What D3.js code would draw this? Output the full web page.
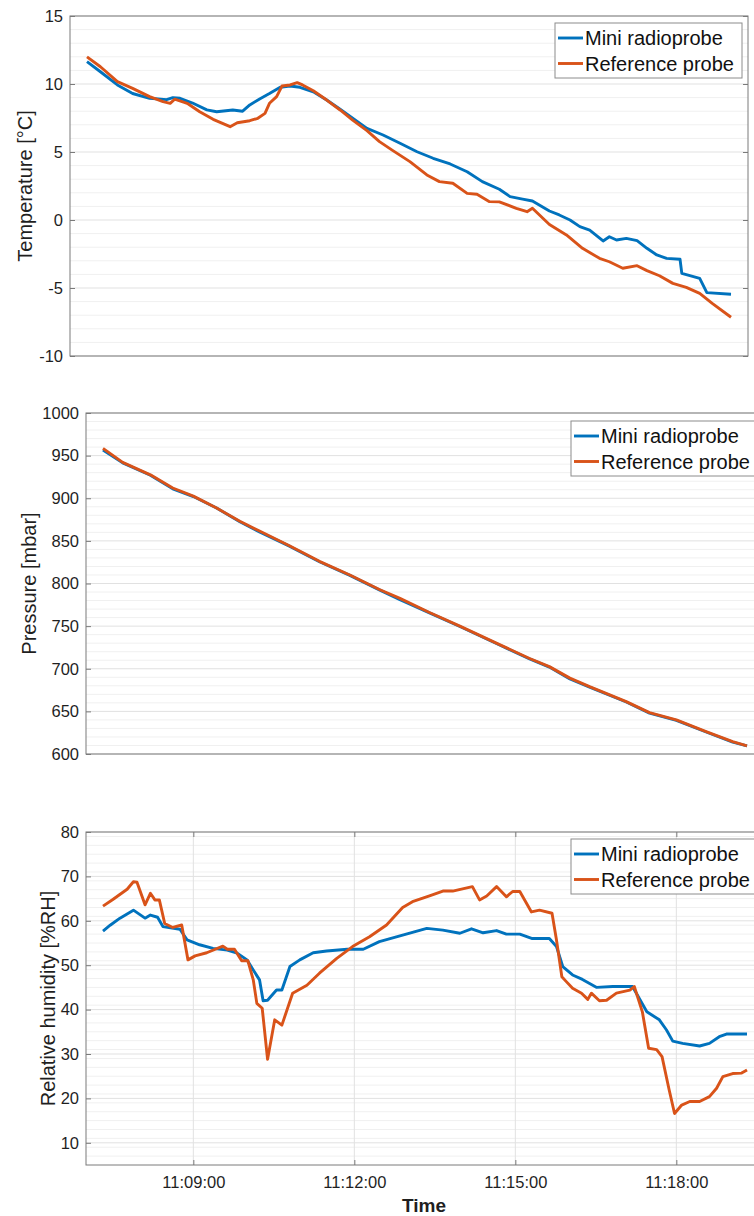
<!DOCTYPE html>
<html>
<head>
<meta charset="utf-8">
<script src="https://cdn.jsdelivr.net/npm/d3@7"></script>
<style>
  body { margin: 0; background: #fff; }
  svg { font-family: "Liberation Sans", Arial, sans-serif; display: block; }
  .tick text { fill: #1f1f1f; }
</style>
</head>
<body>
<div id="chart"></div>
<script>
// Temperature panel
const tempTicks = [-10, -5, 0, 5, 10, 15];
const tempMiniTime = ["11:07:19","11:07:34","11:07:53","11:08:10","11:08:29","11:08:48","11:08:55","11:09:03","11:09:17","11:09:33","11:09:44","11:10:02","11:10:13","11:10:21","11:10:32","11:10:43","11:10:55","11:11:06","11:11:17","11:11:32","11:11:47","11:12:02","11:12:16","11:12:32","11:12:50","11:13:09","11:13:28","11:13:46","11:14:05","11:14:24","11:14:41","11:15:00","11:15:12","11:15:26","11:15:37","11:15:56","11:16:07","11:16:19","11:16:30","11:16:41","11:16:56","11:17:03","11:17:11","11:17:22","11:17:34","11:17:45","11:17:56","11:18:07","11:18:22","11:18:24","11:18:44","11:18:52","11:19:19"];
const tempMini = [11.64,10.9,9.93,9.3,8.95,8.85,9.0,8.95,8.6,8.1,7.96,8.09,8.0,8.46,8.9,9.3,9.76,9.85,9.76,9.43,8.82,8.14,7.48,6.74,6.25,5.64,5.02,4.54,4.12,3.55,2.82,2.26,1.72,1.54,1.4,0.66,0.37,0.0,-0.49,-0.74,-1.54,-1.23,-1.47,-1.35,-1.52,-2.08,-2.57,-2.82,-2.89,-3.92,-4.29,-5.34,-5.46];
const tempRefTime = ["11:07:19","11:07:34","11:07:53","11:08:10","11:08:29","11:08:44","11:08:52","11:08:57","11:09:11","11:09:25","11:09:40","11:09:59","11:10:07","11:10:21","11:10:30","11:10:38","11:10:43","11:10:51","11:10:57","11:11:06","11:11:14","11:11:20","11:11:32","11:11:47","11:12:02","11:12:16","11:12:32","11:12:46","11:13:01","11:13:20","11:13:39","11:13:53","11:14:08","11:14:24","11:14:35","11:14:49","11:15:00","11:15:19","11:15:31","11:15:37","11:15:56","11:16:15","11:16:33","11:16:52","11:17:03","11:17:18","11:17:34","11:17:45","11:17:59","11:18:14","11:18:29","11:18:44","11:18:58","11:19:19"];
const tempRef = [12.0,11.27,10.17,9.68,9.07,8.7,8.58,8.88,8.58,7.96,7.4,6.86,7.15,7.3,7.48,7.84,8.58,9.07,9.85,9.93,10.1,9.93,9.5,8.82,8.09,7.35,6.57,5.76,5.1,4.29,3.31,2.82,2.7,1.96,1.89,1.35,1.33,0.86,0.61,0.86,-0.33,-1.1,-2.08,-2.82,-3.07,-3.55,-3.36,-3.72,-4.1,-4.66,-4.95,-5.39,-6.13,-7.15];

// Pressure panel
const presTicks = [600, 650, 700, 750, 800, 850, 900, 950, 1000];
const presTime = ["11:07:19","11:07:41","11:08:12","11:08:37","11:09:00","11:09:26","11:09:52","11:10:14","11:10:48","11:11:21","11:11:55","11:12:28","11:12:51","11:13:24","11:13:58","11:14:43","11:15:16","11:15:38","11:16:01","11:16:23","11:17:04","11:17:30","11:18:00","11:18:34","11:19:03","11:19:19"];
const presMini = [956.5,941.5,927,911,902,888.5,872.5,860.5,843.5,825.5,809.5,792.5,781,765.5,749.5,727.5,711.5,702,688,678.5,661,648,639.5,625.5,614,609.5];
const presRef = [958.5,942,927.5,912,902.5,888.5,873,861.5,844,826,810,793,782.5,766,750,728,712,702.5,689,679,661.5,648.5,640,626,614.5,609.5];

// Relative humidity panel
const rhTicks = [10, 20, 30, 40, 50, 60, 70, 80];
const rhMiniTime = ["11:07:19","11:07:27","11:07:38","11:07:53","11:08:06","11:08:12","11:08:20","11:08:26","11:08:45","11:08:53","11:09:07","11:09:22","11:09:38","11:09:49","11:10:00","11:10:07","11:10:14","11:10:18","11:10:23","11:10:33","11:10:39","11:10:48","11:10:59","11:11:14","11:11:29","11:11:52","11:12:10","11:12:28","11:12:51","11:13:21","11:13:39","11:13:58","11:14:11","11:14:24","11:14:39","11:14:50","11:15:05","11:15:19","11:15:38","11:15:46","11:15:53","11:16:04","11:16:15","11:16:31","11:16:49","11:17:11","11:17:27","11:17:41","11:17:49","11:17:56","11:18:07","11:18:26","11:18:37","11:18:48","11:18:56","11:19:19"];
const rhMini = [57.7,59.0,60.6,62.4,60.6,61.3,60.8,58.7,58.1,55.7,54.6,53.8,53.4,52.7,51.2,48.9,46.7,42.0,42.1,44.4,44.4,49.7,51.2,52.8,53.2,53.6,53.6,55.3,56.6,58.3,57.9,57.2,58.2,57.3,57.8,57.0,57.0,56.0,56.0,54.2,49.7,47.8,46.8,45.0,45.2,45.2,39.5,37.7,35.4,32.9,32.4,31.8,32.4,33.9,34.5,34.5];
const rhRefTime = ["11:07:19","11:07:30","11:07:46","11:07:53","11:07:57","11:08:06","11:08:12","11:08:17","11:08:22","11:08:28","11:08:37","11:08:47","11:08:54","11:09:02","11:09:15","11:09:33","11:09:38","11:09:46","11:09:54","11:10:01","11:10:07","11:10:11","11:10:17","11:10:23","11:10:31","11:10:39","11:10:51","11:11:07","11:11:21","11:11:40","11:11:58","11:12:17","11:12:36","11:12:54","11:13:05","11:13:24","11:13:39","11:13:50","11:14:12","11:14:20","11:14:28","11:14:39","11:14:50","11:14:57","11:15:05","11:15:18","11:15:27","11:15:41","11:15:46","11:15:52","11:15:57","11:16:04","11:16:14","11:16:21","11:16:25","11:16:34","11:16:42","11:16:53","11:17:08","11:17:13","11:17:22","11:17:29","11:17:38","11:17:44","11:17:52","11:17:58","11:18:06","11:18:15","11:18:26","11:18:37","11:18:45","11:18:52","11:19:03","11:19:13","11:19:19"];
const rhRef = [63.3,64.8,67.1,68.8,68.7,63.6,66.2,64.7,64.7,59.4,58.5,59.05,51.2,52.1,52.8,54.3,53.6,53.6,51.0,51.0,46.7,41.4,40.3,28.8,37.7,36.5,43.7,45.5,48.2,51.5,54.2,56.4,59.05,63.0,64.3,65.6,66.7,66.7,67.7,64.7,65.6,67.7,65.4,66.6,66.6,62.0,62.4,61.7,55.7,47.4,46.3,44.8,43.7,42.3,43.7,42.0,42.1,43.7,44.4,45.2,39.5,31.3,31.0,29.4,21.9,16.6,18.5,19.3,19.3,20.4,22.3,24.9,25.6,25.7,26.4];

const timeTicks = ["11:09:00", "11:12:00", "11:15:00", "11:18:00"];
const seriesNames = ["Mini radioprobe", "Reference probe"];
const colors = ["#0072BD", "#D95319"];

const parse = d3.timeParse("%H:%M:%S");
const fmt = d3.timeFormat("%H:%M:%S");
const xDomain = [parse("11:07:00"), parse("11:19:38")];

const svg = d3.select("#chart").append("svg")
    .attr("width", 754)
    .attr("height", 1216);

function zip(times, vals) {
    return times.map((t, i) => ({ t: parse(t), v: vals[i] }));
}

function drawPanel(cfg) {
    const g = svg.append("g").attr("transform", `translate(${cfg.left},${cfg.top})`);
    const x = d3.scaleTime().domain(xDomain).range([0, cfg.width]);
    const y = d3.scaleLinear().domain(cfg.yDomain).range([cfg.height, 0]);

    // minor grid
    const minor = d3.range(cfg.yDomain[0], cfg.yDomain[1], cfg.minorStep)
        .filter(v => !cfg.ticks.includes(v) && v > cfg.yDomain[0]);
    g.append("g").selectAll("line").data(minor).join("line")
        .attr("x1", 0).attr("x2", cfg.width)
        .attr("y1", d => y(d)).attr("y2", d => y(d))
        .attr("stroke", "#f0f0f0").attr("stroke-width", 1);

    // major grid
    g.append("g").selectAll("line").data(cfg.ticks).join("line")
        .attr("x1", 0).attr("x2", cfg.width)
        .attr("y1", d => y(d)).attr("y2", d => y(d))
        .attr("stroke", "#e1e1e1").attr("stroke-width", 1);

    if (cfg.xLabels) {
        g.append("g").selectAll("line").data(timeTicks.map(parse)).join("line")
            .attr("x1", d => x(d)).attr("x2", d => x(d))
            .attr("y1", 0).attr("y2", cfg.height)
            .attr("stroke", "#e1e1e1").attr("stroke-width", 1);
    }

    // data lines
    const line = d3.line().x(d => x(d.t)).y(d => y(d.v));
    cfg.series.forEach((s, i) => {
        g.append("path")
            .datum(s)
            .attr("fill", "none")
            .attr("stroke", colors[i])
            .attr("stroke-width", 2.9)
            .attr("stroke-linejoin", "round")
            .attr("d", line);
    });

    // box
    g.append("rect")
        .attr("width", cfg.width).attr("height", cfg.height)
        .attr("fill", "none").attr("stroke", "#7a7a7a").attr("stroke-width", 1);

    // y axes (inward ticks both sides)
    const yAxis = g.append("g")
        .call(d3.axisLeft(y).tickValues(cfg.ticks).tickFormat(d => String(d)).tickSize(-5).tickPadding(7));
    yAxis.select(".domain").remove();
    yAxis.selectAll(".tick line").attr("stroke", "#7a7a7a");
    yAxis.selectAll(".tick text").style("font-size", "16.5px");

    const yAxisR = g.append("g")
        .attr("transform", `translate(${cfg.width},0)`)
        .call(d3.axisRight(y).tickValues(cfg.ticks).tickSize(-5).tickFormat(""));
    yAxisR.select(".domain").remove();
    yAxisR.selectAll(".tick line").attr("stroke", "#7a7a7a");

    if (cfg.xLabels) {
        const xAxis = g.append("g")
            .attr("transform", `translate(0,${cfg.height})`)
            .call(d3.axisBottom(x).tickValues(timeTicks.map(parse)).tickFormat(fmt).tickSize(-5).tickPadding(11));
        xAxis.select(".domain").remove();
        xAxis.selectAll(".tick line").attr("stroke", "#7a7a7a");
        xAxis.selectAll(".tick text").style("font-size", "16.5px");

        const xAxisT = g.append("g")
            .call(d3.axisTop(x).tickValues(timeTicks.map(parse)).tickFormat("").tickSize(-5));
        xAxisT.select(".domain").remove();
        xAxisT.selectAll(".tick line").attr("stroke", "#7a7a7a");

        g.append("text")
            .attr("x", cfg.width * 0.5 - 1)
            .attr("y", cfg.height + 47)
            .attr("text-anchor", "middle")
            .attr("font-size", "19px")
            .attr("font-weight", "bold")
            .attr("fill", "#1f1f1f")
            .text("Time");
    }

    // y label
    svg.append("text")
        .attr("transform", `translate(${cfg.labelX},${cfg.top + cfg.height / 2}) rotate(-90)`)
        .attr("text-anchor", "middle")
        .attr("dy", "0.35em")
        .attr("font-size", "20px")
        .attr("fill", "#1f1f1f")
        .text(cfg.label);

    // legend
    const lg = svg.append("g").attr("transform", `translate(${cfg.legend[0]},${cfg.legend[1]})`);
    lg.append("rect")
        .attr("width", 187).attr("height", 55)
        .attr("fill", "#fff").attr("stroke", "#8c8c8c").attr("stroke-width", 1);
    seriesNames.forEach((name, i) => {
        const ry = 15 + i * 25.5;
        lg.append("line")
            .attr("x1", 3).attr("x2", 28)
            .attr("y1", ry).attr("y2", ry)
            .attr("stroke", colors[i]).attr("stroke-width", 2.9);
        lg.append("text")
            .attr("x", 30).attr("y", ry)
            .attr("dy", "0.35em")
            .attr("font-size", "20px")
            .attr("fill", "#111")
            .text(name);
    });
}

drawPanel({
    left: 70, top: 16, width: 678, height: 340,
    yDomain: [-10, 15], ticks: tempTicks, minorStep: 1,
    label: "Temperature [°C]", labelX: 25, legend: [555, 23], xLabels: false,
    series: [zip(tempMiniTime, tempMini), zip(tempRefTime, tempRef)]
});

drawPanel({
    left: 86, top: 413, width: 678, height: 341,
    yDomain: [600, 1000], ticks: presTicks, minorStep: 10,
    label: "Pressure [mbar]", labelX: 29, legend: [571, 421], xLabels: false,
    series: [zip(presTime, presMini), zip(presTime, presRef)]
});

drawPanel({
    left: 86, top: 832, width: 678, height: 333,
    yDomain: [5, 80], ticks: rhTicks, minorStep: 2,
    label: "Relative humidity [%RH]", labelX: 48, legend: [571, 839], xLabels: true,
    series: [zip(rhMiniTime, rhMini), zip(rhRefTime, rhRef)]
});
</script>
</body>
</html>
